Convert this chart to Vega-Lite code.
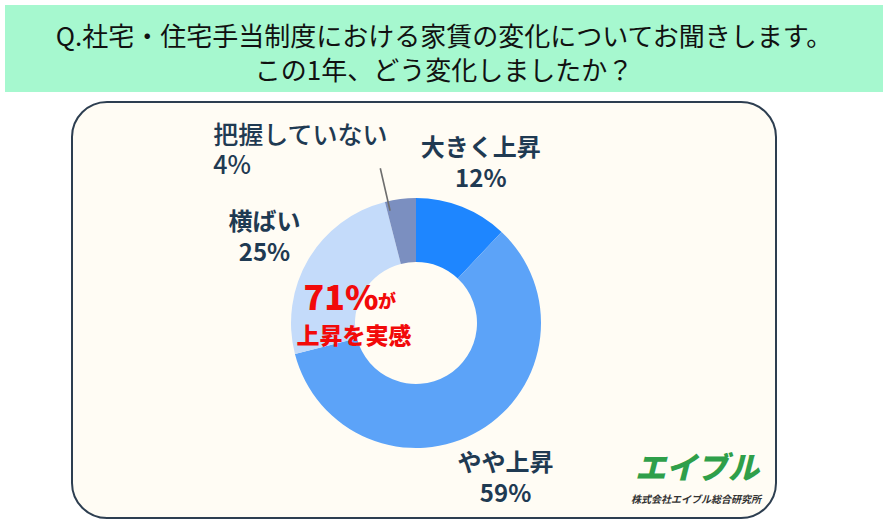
{
  "$schema": "https://vega.github.io/schema/vega-lite/v6.json",
  "background": "#ffffff",
  "padding": {"left": 5, "top": 5, "right": 5, "bottom": 9},
  "spacing": 10,
  "bounds": "flush",
  "config": {
    "view": {"stroke": null},
    "font": "Noto Sans CJK JP"
  },
  "datasets": {
    "survey": [
      {"idx": 1, "category": "大きく上昇", "value": 12},
      {"idx": 2, "category": "やや上昇", "value": 59},
      {"idx": 3, "category": "横ばい", "value": 25},
      {"idx": 4, "category": "把握していない", "value": 4}
    ]
  },
  "vconcat": [
    {
      "width": 878,
      "height": 87,
      "view": {"fill": "#a6f8cf", "stroke": null},
      "data": {"values": [{"q": "Q.社宅・住宅手当制度における家賃の変化についてお聞きします。\nこの1年、どう変化しましたか？"}]},
      "mark": {"type": "text", "lineBreak": "\n", "lineHeight": 34, "fontSize": 26, "fontWeight": 400, "color": "#111111", "baseline": "middle", "align": "center", "dy": -11},
      "encoding": {"text": {"field": "q"}}
    },
    {
      "spacing": 20,
      "bounds": "flush",
      "hconcat": [
        {
          "width": 47,
          "height": 10,
          "data": {"values": [{}]},
          "mark": {"type": "text", "text": ""},
          "encoding": {}
        },
        {
          "width": 704,
          "height": 416,
          "view": {"fill": "#fffcf4", "stroke": "#2d3e50", "strokeWidth": 2, "cornerRadius": 35},
          "data": {"name": "survey"},
          "transform": [
            {"calculate": "datum.category + '\\n' + datum.value + '%'", "as": "lbl"}
          ],
          "layer": [
            {
              "mark": {"type": "arc", "outerRadius": 125, "innerRadius": 61, "xOffset": -8, "yOffset": 13},
              "encoding": {
                "theta": {"field": "value", "type": "quantitative", "stack": true},
                "order": {"field": "idx", "type": "quantitative"},
                "color": {
                  "field": "category",
                  "type": "nominal",
                  "scale": {
                    "domain": ["大きく上昇", "やや上昇", "横ばい", "把握していない"],
                    "range": ["#1e86ff", "#5ca3f8", "#c4dbfa", "#7b8fc0"]
                  },
                  "legend": null
                }
              }
            },
            {
              "mark": {"type": "text", "radius": 176, "xOffset": -8, "yOffset": 13, "dy": -10, "lineBreak": "\n", "lineHeight": 31, "fontSize": 24, "fontWeight": "bold", "color": "#1f3a52", "align": "center", "baseline": "middle"},
              "encoding": {
                "theta": {"field": "value", "type": "quantitative", "stack": true},
                "order": {"field": "idx", "type": "quantitative"},
                "text": {"field": "lbl"},
                "opacity": {"condition": {"test": "datum.category !== '把握していない'", "value": 1}, "value": 0}
              }
            },
            {
              "mark": {"type": "text", "radius": 174, "xOffset": -8, "yOffset": 13, "dx": -181, "dy": -14, "lineBreak": "\n", "lineHeight": 30, "fontSize": 25, "fontWeight": 500, "color": "#1f3a52", "align": "left", "baseline": "middle"},
              "encoding": {
                "theta": {"field": "value", "type": "quantitative", "stack": true},
                "order": {"field": "idx", "type": "quantitative"},
                "text": {"field": "lbl"},
                "opacity": {"condition": {"test": "datum.category === '把握していない'", "value": 1}, "value": 0}
              }
            },
            {
              "data": {"values": [{"part": "leader"}]},
              "mark": {"type": "arc", "theta": 6.0563, "theta2": 6.0564, "radius": 158, "radius2": 116, "xOffset": -8, "yOffset": 13, "fill": null, "stroke": "#6e6e6e", "strokeWidth": 1.6},
              "encoding": {}
            },
            {
              "data": {"values": [{}]},
              "mark": {"type": "text", "text": "71%", "fontSize": 34, "fontWeight": 900, "color": "#f20a0a", "align": "center", "baseline": "middle", "dx": -83, "dy": -10},
              "encoding": {}
            },
            {
              "data": {"values": [{}]},
              "mark": {"type": "text", "text": "が", "fontSize": 18, "fontWeight": 900, "color": "#f20a0a", "align": "center", "baseline": "middle", "dx": -37, "dy": -7},
              "encoding": {}
            },
            {
              "data": {"values": [{}]},
              "mark": {"type": "text", "text": "上昇を実感", "fontSize": 23, "fontWeight": 900, "color": "#f20a0a", "align": "center", "baseline": "middle", "dx": -70, "dy": 27},
              "encoding": {}
            },
            {
              "data": {"values": [{}]},
              "mark": {"type": "text", "text": "エイブル", "fontSize": 31, "fontWeight": 900, "fontStyle": "italic", "color": "#2f9f4a", "align": "center", "baseline": "middle", "dx": 273, "dy": 160},
              "encoding": {}
            },
            {
              "data": {"values": [{}]},
              "mark": {"type": "text", "text": "株式会社エイブル総合研究所", "fontSize": 10, "fontWeight": "bold", "fontStyle": "italic", "color": "#333333", "align": "center", "baseline": "middle", "dx": 272, "dy": 190},
              "encoding": {}
            }
          ]
        }
      ]
    }
  ]
}
